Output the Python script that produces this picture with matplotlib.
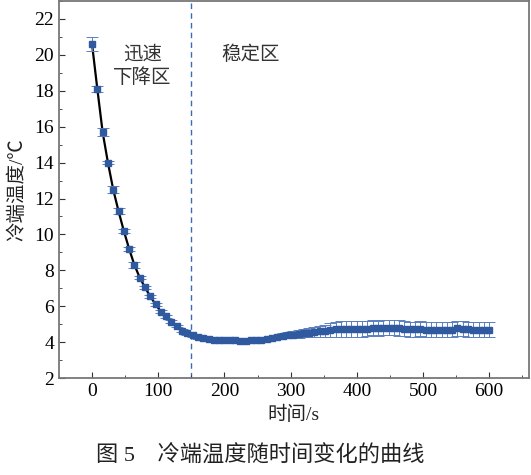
import matplotlib
matplotlib.use('Agg')
import matplotlib.pyplot as plt
from matplotlib.ticker import MultipleLocator

plt.rcParams['font.family'] = ['Liberation Serif', 'Noto Sans CJK SC']

# 时间 / s
t = [0, 8, 16, 24, 32, 40, 48, 56, 64, 72, 80, 88, 96, 104, 112, 120, 128, 136, 144, 152,
     160, 168, 176, 184, 192, 200, 208, 216, 224, 232, 240, 248, 256, 264, 272, 280, 288, 296,
     304, 312, 320, 328, 336, 344, 352, 360, 368, 376, 384, 392, 400, 408, 416, 424, 432, 440,
     448, 456, 464, 472, 480, 488, 496, 504, 512, 520, 528, 536, 544, 552, 560, 568, 576, 584,
     592, 600]
# 冷端温度 / ℃
temp = [20.6, 18.1, 15.7, 14.0, 12.5, 11.3, 10.2, 9.2, 8.3, 7.6, 7.05, 6.55, 6.1, 5.7, 5.45,
        5.15, 4.9, 4.65, 4.5, 4.38, 4.28, 4.21, 4.17, 4.14, 4.12, 4.11, 4.1, 4.1, 4.09, 4.09,
        4.1, 4.11, 4.13, 4.18, 4.24, 4.3, 4.36, 4.39, 4.42, 4.46, 4.5, 4.53, 4.56, 4.6, 4.63,
        4.68, 4.72, 4.74, 4.74, 4.74, 4.74, 4.75, 4.76, 4.8, 4.78, 4.8, 4.8, 4.8, 4.79, 4.74,
        4.72, 4.73, 4.74, 4.7, 4.7, 4.7, 4.7, 4.69, 4.7, 4.78, 4.76, 4.72, 4.69, 4.69, 4.69, 4.69]
err = [0.4, 0.15, 0.2, 0.1, 0.2, 0.15, 0.1, 0.12, 0.15, 0.1, 0.1, 0.1, 0.08, 0.08, 0.08,
       0.08, 0.08, 0.08, 0.08, 0.08, 0.08, 0.08, 0.08, 0.08, 0.08, 0.08, 0.08, 0.08, 0.08, 0.08,
       0.08, 0.08, 0.08, 0.1, 0.12, 0.12, 0.14, 0.16, 0.18, 0.2, 0.22, 0.25, 0.28, 0.3, 0.34,
       0.38, 0.42, 0.45, 0.46, 0.46, 0.46, 0.45, 0.44, 0.42, 0.42, 0.42, 0.42, 0.42, 0.42, 0.42,
       0.42, 0.42, 0.42, 0.42, 0.42, 0.42, 0.42, 0.42, 0.42, 0.42, 0.42, 0.42, 0.42, 0.42,
       0.42, 0.42]
t_split = 150

fig = plt.figure(figsize=(5.31, 4.75), dpi=100)
ax = fig.add_axes([0.111, 0.204, 0.885, 0.794])

# 快速下降段的拟合线
n_fit = 20
ax.plot(t[:n_fit], temp[:n_fit], color='black', lw=1.6, zorder=2)
ax.errorbar(t, temp, yerr=err, fmt='s', color='#2f5aa0', ms=4.0, ecolor='#5a80c0',
            elinewidth=0.7, capsize=4, capthick=0.7, zorder=3)
ax.axvline(t_split, color='#3b6bb5', lw=1.0, ls=(0, (4, 3)), zorder=1)

ax.text(76, 19.4, '迅速\n下降区', ha='center', va='center', fontsize=14, linespacing=1.15,
        family=['Noto Sans CJK SC'], color='#333333')
ax.text(240, 20.0, '稳定区', ha='center', va='center', fontsize=14,
        family=['Noto Sans CJK SC'], color='#333333')

ax.set_xlim(-50, 660)
ax.set_ylim(2, 23)
ax.xaxis.set_major_locator(MultipleLocator(100))
ax.xaxis.set_minor_locator(MultipleLocator(50))
ax.yaxis.set_major_locator(MultipleLocator(2))
ax.yaxis.set_minor_locator(MultipleLocator(1))
ax.tick_params(which='both', direction='in', top=False, right=False, labelsize=14,
               color='#333333')
ax.tick_params(which='major', length=4.5)
ax.tick_params(which='minor', length=2.5)
for s in ax.spines.values():
    s.set_color('#777777')
    s.set_linewidth(1.3)

ax.set_xlabel('时间/s', fontsize=14, labelpad=4, color='#222222')
ax.set_ylabel('冷端温度/℃', fontsize=14, labelpad=6, color='#222222')

fig.text(0.49, 0.017, '图 5    冷端温度随时间变化的曲线', ha='center', va='bottom',
         fontsize=16, color='#222222')

fig.savefig('out.png', dpi=100)
